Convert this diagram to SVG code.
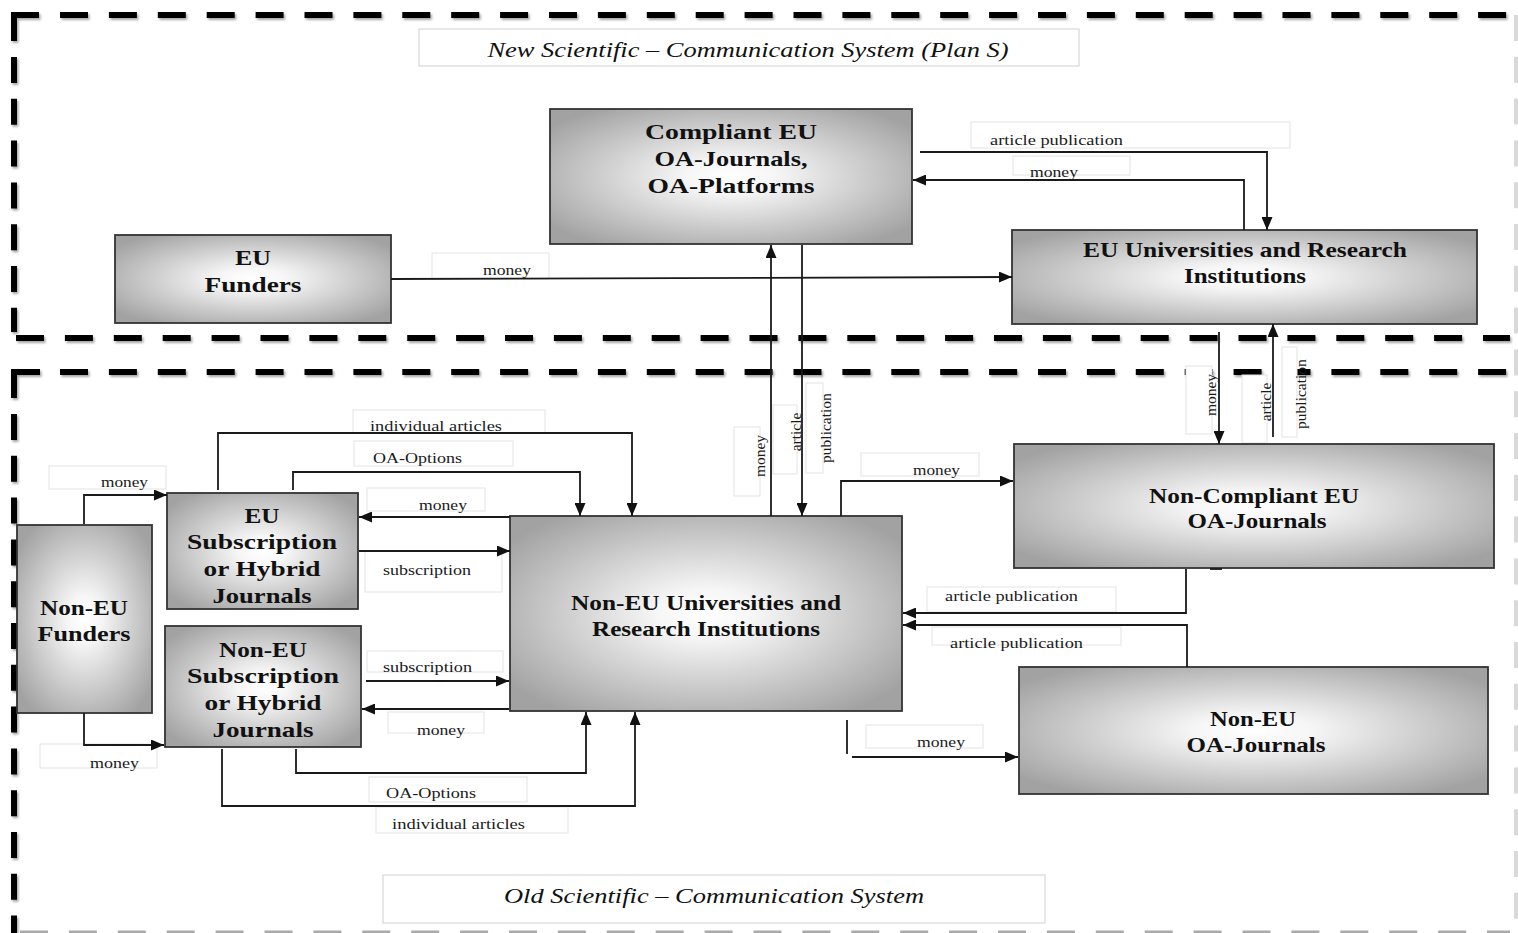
<svg xmlns="http://www.w3.org/2000/svg" width="1518" height="933" viewBox="0 0 1518 933">
<defs>
<radialGradient id="g" cx="0.5" cy="0.5" r="0.62">
<stop offset="0" stop-color="#ffffff"/>
<stop offset="0.2" stop-color="#f6f6f6"/>
<stop offset="1" stop-color="#a2a2a2"/>
</radialGradient>
<filter id="sh" filterUnits="userSpaceOnUse" x="0" y="0" width="1518" height="933">
<feDropShadow dx="1.5" dy="2" stdDeviation="1.2" flood-color="#000" flood-opacity="0.35"/>
</filter>
<marker id="ah" markerWidth="13" markerHeight="11" refX="13" refY="5.5" orient="auto" markerUnits="userSpaceOnUse">
<path d="M0,0 L13,5.5 L0,11 z" fill="#111"/>
</marker>
</defs>
<style>
.bd{stroke:#000;stroke-width:6;fill:none;filter:url(#sh)}
.hd{stroke-dasharray:28 20.9}
.vd{stroke-dasharray:26 15.8}
.fd{stroke:#d9d9d9;stroke-width:4;fill:none;stroke-dasharray:26 15.8}
.tb{fill:#fff;stroke:#d0d0d0;stroke-width:1}
.tt{font-family:"Liberation Serif","Times New Roman",serif;font-style:italic;font-size:22px;fill:#111;text-anchor:middle}
.nd rect{fill:url(#g);stroke:#333;stroke-width:1.8}
.nt{font-family:"Liberation Serif","Times New Roman",serif;font-weight:bold;font-size:22px;fill:#111;text-anchor:middle}
.lb{fill:#fff;stroke:#e3e3e3;stroke-width:1}
.cn path{fill:none;stroke:#1a1a1a;stroke-width:1.8}
.ar{marker-end:url(#ah)}
.el{font-family:"Liberation Serif","Times New Roman",serif;font-size:15.5px;fill:#1a1a1a}
</style>
<rect width="1518" height="933" fill="#fff"/>

<g id="borders">
<path class="bd" d="M14,41 V15 H39"/>
<path class="bd hd" d="M60,15 H1508"/>
<path class="bd vd" d="M14,57 V332"/>
<path class="bd hd" d="M16,338 H1510"/>
<path class="bd" d="M14,398 V372 H40"/>
<path class="bd hd" d="M60,372 H1508"/>
<path class="bd vd" d="M14,414 V933"/>
<path class="fd" d="M1516,15 V933"/>
<path class="fd" d="M20,932 H1510" style="stroke-dasharray:28 20.9;stroke:#aaa;stroke-width:3"/>
</g>

<g id="title-new">
<rect class="tb" x="419" y="29" width="660" height="37"/>
<text class="tt" x="748" y="57" textLength="521" lengthAdjust="spacingAndGlyphs">New Scientific – Communication System (Plan S)</text>
</g>
<g id="title-old">
<rect class="tb" x="383" y="875" width="662" height="48"/>
<text class="tt" x="714" y="903" textLength="420" lengthAdjust="spacingAndGlyphs">Old Scientific – Communication System</text>
</g>

<g id="label-boxes">
<rect class="lb" x="971" y="122" width="319" height="26"/>
<rect class="lb" x="1013" y="156" width="117" height="19"/>
<rect class="lb" x="432" y="253" width="117" height="26"/>
<rect class="lb" x="734" y="427" width="26" height="69"/>
<rect class="lb" x="773" y="405" width="24" height="69"/>
<rect class="lb" x="806" y="383" width="17" height="90"/>
<rect class="lb" x="1186" y="366" width="26" height="68"/>
<rect class="lb" x="1242" y="375" width="25" height="68"/>
<rect class="lb" x="1282" y="347" width="15" height="90"/>
<rect class="lb" x="353" y="410" width="192" height="23"/>
<rect class="lb" x="354" y="441" width="159" height="25"/>
<rect class="lb" x="49" y="466" width="117" height="23"/>
<rect class="lb" x="367" y="488" width="118" height="23"/>
<rect class="lb" x="365" y="551" width="137" height="41"/>
<rect class="lb" x="367" y="651" width="136" height="21"/>
<rect class="lb" x="388" y="712" width="96" height="21"/>
<rect class="lb" x="40" y="744" width="117" height="24"/>
<rect class="lb" x="369" y="777" width="158" height="25"/>
<rect class="lb" x="376" y="807" width="192" height="26"/>
<rect class="lb" x="861" y="453" width="118" height="23"/>
<rect class="lb" x="927" y="587" width="189" height="25"/>
<rect class="lb" x="932" y="627" width="189" height="18"/>
<rect class="lb" x="866" y="725" width="117" height="23"/>
</g>

<g id="compliant-eu-oa" class="nd">
<rect x="550" y="109" width="362" height="135"/>
<text class="nt" x="731" y="139" textLength="172" lengthAdjust="spacingAndGlyphs">Compliant EU</text>
<text class="nt" x="731" y="166" textLength="153" lengthAdjust="spacingAndGlyphs">OA-Journals,</text>
<text class="nt" x="731" y="193" textLength="167" lengthAdjust="spacingAndGlyphs">OA-Platforms</text>
</g>
<g id="eu-funders" class="nd">
<rect x="115" y="235" width="276" height="88"/>
<text class="nt" x="253" y="265" textLength="36" lengthAdjust="spacingAndGlyphs">EU</text>
<text class="nt" x="253" y="292" textLength="97" lengthAdjust="spacingAndGlyphs">Funders</text>
</g>
<g id="eu-universities" class="nd">
<rect x="1012" y="230" width="465" height="94"/>
<text class="nt" x="1245" y="257" textLength="324" lengthAdjust="spacingAndGlyphs">EU Universities and Research</text>
<text class="nt" x="1245" y="283" textLength="122" lengthAdjust="spacingAndGlyphs">Institutions</text>
</g>
<g id="eu-subscription" class="nd">
<rect x="167" y="493" width="191" height="116"/>
<text class="nt" x="262" y="523" textLength="35" lengthAdjust="spacingAndGlyphs">EU</text>
<text class="nt" x="262" y="549" textLength="150" lengthAdjust="spacingAndGlyphs">Subscription</text>
<text class="nt" x="262" y="576" textLength="117" lengthAdjust="spacingAndGlyphs">or Hybrid</text>
<text class="nt" x="262" y="603" textLength="99" lengthAdjust="spacingAndGlyphs">Journals</text>
</g>
<g id="non-eu-funders" class="nd">
<rect x="17" y="525" width="135" height="188"/>
<text class="nt" x="84" y="615" textLength="88" lengthAdjust="spacingAndGlyphs">Non-EU</text>
<text class="nt" x="84" y="641" textLength="93" lengthAdjust="spacingAndGlyphs">Funders</text>
</g>
<g id="non-eu-subscription" class="nd">
<rect x="165" y="626" width="196" height="121"/>
<text class="nt" x="263" y="657" textLength="88" lengthAdjust="spacingAndGlyphs">Non-EU</text>
<text class="nt" x="263" y="683" textLength="152" lengthAdjust="spacingAndGlyphs">Subscription</text>
<text class="nt" x="263" y="710" textLength="117" lengthAdjust="spacingAndGlyphs">or Hybrid</text>
<text class="nt" x="263" y="737" textLength="101" lengthAdjust="spacingAndGlyphs">Journals</text>
</g>
<g id="non-eu-universities" class="nd">
<rect x="510" y="516" width="392" height="195"/>
<text class="nt" x="706" y="610" textLength="270" lengthAdjust="spacingAndGlyphs">Non-EU Universities and</text>
<text class="nt" x="706" y="636" textLength="228" lengthAdjust="spacingAndGlyphs">Research Institutions</text>
</g>
<g id="non-compliant-eu-oa" class="nd">
<rect x="1014" y="444" width="480" height="124"/>
<text class="nt" x="1254" y="503" textLength="210" lengthAdjust="spacingAndGlyphs">Non-Compliant EU</text>
<text class="nt" x="1257" y="528" textLength="139" lengthAdjust="spacingAndGlyphs">OA-Journals</text>
</g>
<g id="non-eu-oa" class="nd">
<rect x="1019" y="667" width="469" height="127"/>
<text class="nt" x="1253" y="726" textLength="86" lengthAdjust="spacingAndGlyphs">Non-EU</text>
<text class="nt" x="1256" y="752" textLength="139" lengthAdjust="spacingAndGlyphs">OA-Journals</text>
</g>

<g id="connectors" class="cn">
<path class="ar" d="M920,152 H1267 V230"/>
<path class="ar" d="M1244,230 V180 H913"/>
<path class="ar" d="M391,279 L1012,277"/>
<path class="ar" d="M771,516 V245"/>
<path class="ar" d="M802,245 V516"/>
<path class="ar" d="M1219,332 V444"/>
<path class="ar" d="M1273,437 V324"/>
<path class="ar" d="M84,524 V495 H167"/>
<path class="ar" d="M84,713 V745 H164"/>
<path class="ar" d="M218,490 V433 H632 V516"/>
<path class="ar" d="M293,490 V472 H580 V516"/>
<path class="ar" d="M510,517 H359"/>
<path class="ar" d="M359,551 H510"/>
<path class="ar" d="M366,681 H509"/>
<path class="ar" d="M509,709 H362"/>
<path class="ar" d="M296,749 V773 H586 V712"/>
<path class="ar" d="M222,749 V806 H635 V712"/>
<path class="ar" d="M841,516 V481 H1013"/>
<path class="ar" d="M1186,569 V613 H903"/>
<path class="ar" d="M1187,667 V625 H903"/>
<path d="M847,720 V754"/>
<path class="ar" d="M852,757 H1018"/>
<path d="M1210,569 H1222"/>
</g>

<g id="edge-labels">
<text class="el" x="990" y="145" textLength="133" lengthAdjust="spacingAndGlyphs">article publication</text>
<text class="el" x="1030" y="177" textLength="48" lengthAdjust="spacingAndGlyphs">money</text>
<text class="el" x="483" y="275" textLength="48" lengthAdjust="spacingAndGlyphs">money</text>
<text class="el" transform="translate(765,456) rotate(-90)" text-anchor="middle">money</text>
<text class="el" transform="translate(801,432) rotate(-90)" text-anchor="middle">article</text>
<text class="el" transform="translate(831,428) rotate(-90)" text-anchor="middle">publication</text>
<text class="el" transform="translate(1216,395) rotate(-90)" text-anchor="middle">money</text>
<text class="el" transform="translate(1271,402) rotate(-90)" text-anchor="middle">article</text>
<text class="el" transform="translate(1306,394) rotate(-90)" text-anchor="middle">publication</text>
<text class="el" x="370" y="431" textLength="132" lengthAdjust="spacingAndGlyphs">individual articles</text>
<text class="el" x="373" y="463" textLength="89" lengthAdjust="spacingAndGlyphs">OA-Options</text>
<text class="el" x="101" y="487" textLength="47" lengthAdjust="spacingAndGlyphs">money</text>
<text class="el" x="419" y="510" textLength="48" lengthAdjust="spacingAndGlyphs">money</text>
<text class="el" x="383" y="575" textLength="88" lengthAdjust="spacingAndGlyphs">subscription</text>
<text class="el" x="383" y="672" textLength="89" lengthAdjust="spacingAndGlyphs">subscription</text>
<text class="el" x="417" y="735" textLength="48" lengthAdjust="spacingAndGlyphs">money</text>
<text class="el" x="90" y="768" textLength="49" lengthAdjust="spacingAndGlyphs">money</text>
<text class="el" x="386" y="798" textLength="90" lengthAdjust="spacingAndGlyphs">OA-Options</text>
<text class="el" x="392" y="829" textLength="133" lengthAdjust="spacingAndGlyphs">individual articles</text>
<text class="el" x="913" y="475" textLength="47" lengthAdjust="spacingAndGlyphs">money</text>
<text class="el" x="945" y="601" textLength="133" lengthAdjust="spacingAndGlyphs">article publication</text>
<text class="el" x="950" y="648" textLength="133" lengthAdjust="spacingAndGlyphs">article publication</text>
<text class="el" x="917" y="747" textLength="48" lengthAdjust="spacingAndGlyphs">money</text>
</g>
</svg>
